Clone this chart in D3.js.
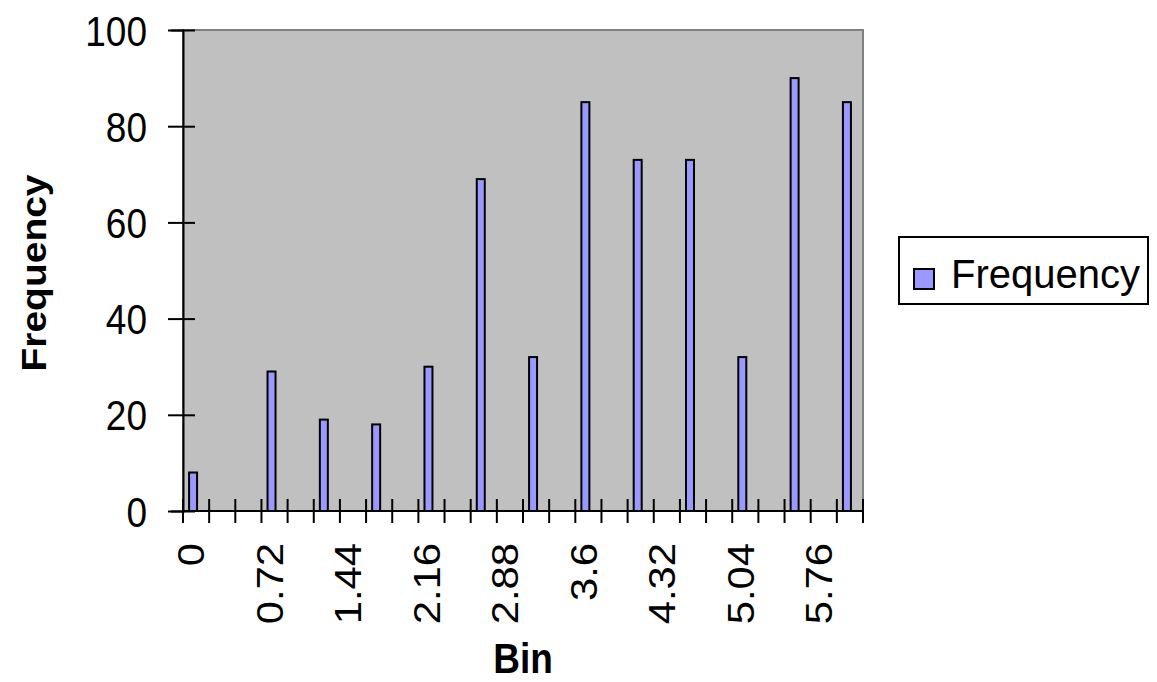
<!DOCTYPE html>
<html>
<head>
<meta charset="utf-8">
<script src="https://cdn.jsdelivr.net/npm/d3@7"></script>
<style>
  body { margin: 0; background: #fff; }
  text { font-family: "Liberation Sans", Arial, sans-serif; fill: #000; }
</style>
</head>
<body>
<div id="chart"></div>
<script>
// Histogram bins and counts
const bins = ["0", "0.24", "0.48", "0.72", "0.96", "1.2", "1.44", "1.68", "1.92", "2.16",
  "2.4", "2.64", "2.88", "3.12", "3.36", "3.6", "3.84", "4.08", "4.32", "4.56",
  "4.8", "5.04", "5.28", "5.52", "5.76", "6"];
const frequency = [8, 0, 0, 29, 0, 19, 0, 18, 0, 30, 0, 69, 0, 32, 0, 85, 0, 73, 0, 73, 0, 32, 0, 90, 0, 85];
const yTicks = [0, 20, 40, 60, 80, 100];
const seriesName = "Frequency";

const W = 1157, H = 682;
const plot = { left: 183, right: 863, top: 30, bottom: 511 };
const sy = 1.13; // the original text is a little stretched vertically

const svg = d3.select("#chart").append("svg")
  .attr("width", W)
  .attr("height", H);

const x = d3.scaleBand()
  .domain(bins)
  .range([plot.left, plot.right]);

const y = d3.scaleLinear()
  .domain([0, 100])
  .range([plot.bottom, plot.top]);

// Plot area background
svg.append("rect")
  .attr("x", plot.left)
  .attr("y", plot.top)
  .attr("width", plot.right - plot.left)
  .attr("height", plot.bottom - plot.top)
  .attr("fill", "#c0c0c0")
  .attr("stroke", "#808080")
  .attr("stroke-width", 2);

// Bars
const barW = 8;
svg.selectAll(".bar")
  .data(bins.map((b, i) => ({ bin: b, value: frequency[i] })).filter(d => d.value > 0))
  .enter().append("rect")
  .attr("class", "bar")
  .attr("x", d => x(d.bin) + (x.bandwidth() - barW) / 2 - 3)
  .attr("y", d => y(d.value))
  .attr("width", barW)
  .attr("height", d => y(0) - y(d.value))
  .attr("fill", "#9999ff")
  .attr("stroke", "#000")
  .attr("stroke-width", 2);

// Y axis
const yAxis = svg.append("g")
  .attr("transform", `translate(${plot.left},0)`)
  .call(d3.axisLeft(y).tickValues(yTicks).tickSize(12));
yAxis.select(".domain").attr("stroke", "#000").attr("stroke-width", 2);
yAxis.selectAll(".tick line").attr("x1", -15).attr("x2", 12).attr("stroke-width", 2);
yAxis.selectAll(".tick text")
  .attr("x", -36)
  .attr("dy", "0.36em")
  .attr("transform", `scale(1,${sy})`)
  .style("font-size", "37px")
  .style("font-family", "'Liberation Sans', Arial, sans-serif")
  .attr("fill", "#000");

// X axis line with ticks between categories
svg.append("line")
  .attr("x1", plot.left).attr("x2", plot.right)
  .attr("y1", plot.bottom).attr("y2", plot.bottom)
  .attr("stroke", "#000").attr("stroke-width", 2);

svg.selectAll(".xtick")
  .data(bins.concat(["end"]))
  .enter().append("line")
  .attr("class", "xtick")
  .attr("x1", d => d === "end" ? plot.right : x(d))
  .attr("x2", d => d === "end" ? plot.right : x(d))
  .attr("y1", plot.bottom - 12)
  .attr("y2", plot.bottom + 12)
  .attr("stroke", "#000")
  .attr("stroke-width", 2);

// X tick labels, every third bin, rotated
svg.selectAll(".xlabel")
  .data(bins.filter((d, i) => i % 3 === 0))
  .enter().append("text")
  .attr("class", "xlabel")
  .attr("transform", d => `translate(${x(d) + x.bandwidth() / 2 - 5},543) scale(1,${sy}) rotate(-90)`)
  .attr("dy", "0.36em")
  .attr("text-anchor", "end")
  .style("font-size", "37px")
  .text(d => d);

// Axis titles
svg.append("text")
  .attr("transform", `translate(523,673) scale(1,${sy})`)
  .attr("text-anchor", "middle")
  .style("font-size", "37px")
  .style("font-weight", "bold")
  .text("Bin");

svg.append("text")
  .attr("transform", `translate(46,273) scale(1,${sy}) rotate(-90)`)
  .attr("text-anchor", "middle")
  .style("font-size", "34.5px")
  .style("font-weight", "bold")
  .text(seriesName);

// Legend
const legend = svg.append("g").attr("transform", "translate(899,237)");
legend.append("rect")
  .attr("width", 249)
  .attr("height", 67)
  .attr("fill", "#fff")
  .attr("stroke", "#000")
  .attr("stroke-width", 2);
legend.append("rect")
  .attr("x", 15).attr("y", 32)
  .attr("width", 20).attr("height", 20)
  .attr("fill", "#9999ff")
  .attr("stroke", "#000")
  .attr("stroke-width", 2);
legend.append("text")
  .attr("x", 52)
  .attr("y", 51)
  .style("font-size", "40px")
  .text(seriesName);
</script>
</body>
</html>
